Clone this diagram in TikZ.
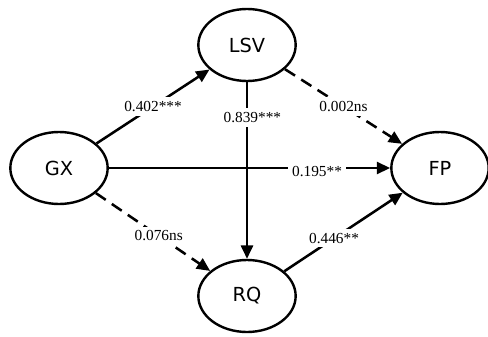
\documentclass[tikz,border=0pt]{standalone}
\usepackage{fontspec}
\setmainfont{Liberation Serif}
\newfontfamily\nodefont{DejaVu Sans}
\usetikzlibrary{arrows.meta, shapes.geometric}
\tikzset{
  latent/.style = {ellipse, draw=black, line width=1.8pt,
      minimum width=73pt, minimum height=54pt,
      inner sep=0pt, font=\nodefont\fontsize{14.5}{14.5}\selectfont},
  path/.style = {line width=1.9pt,
      -{Triangle[length=10pt, width=9pt]}},
  nspath/.style = {path, dash pattern=on 9pt off 5.5pt},
  coef/.style = {fill=white, inner sep=3pt,
      font=\fontsize{11.5}{11.5}\selectfont},
}

\begin{document}
\begin{tikzpicture}[x=0.75pt, y=-0.75pt]
  \useasboundingbox (0,0) rectangle (488,336);

  \node[latent] (gx) at (59,168) {GX};
  \node[latent] (lsv) at (247,45) {LSV};
  \node[latent] (rq) at (247,296) {RQ};
  \node[latent] (fp) at (440,168) {FP};

  \draw[path] (gx) -- node[coef, pos=.5] {0.402***} (lsv);
  \draw[nspath] (lsv) -- node[coef, pos=.5] {0.002ns} (fp);
  \draw[path] (lsv) -- node[coef, pos=.2, xshift=4pt] {0.839***} (rq);
  \draw[path] (gx) -- node[coef, pos=.74, yshift=-3pt] {0.195**} (fp);
  \draw[nspath] (gx) -- node[coef, pos=.55] {0.076ns} (rq);
  \draw[path] (rq) -- node[coef, pos=.42] {0.446**} (fp);
\end{tikzpicture}
\end{document}
